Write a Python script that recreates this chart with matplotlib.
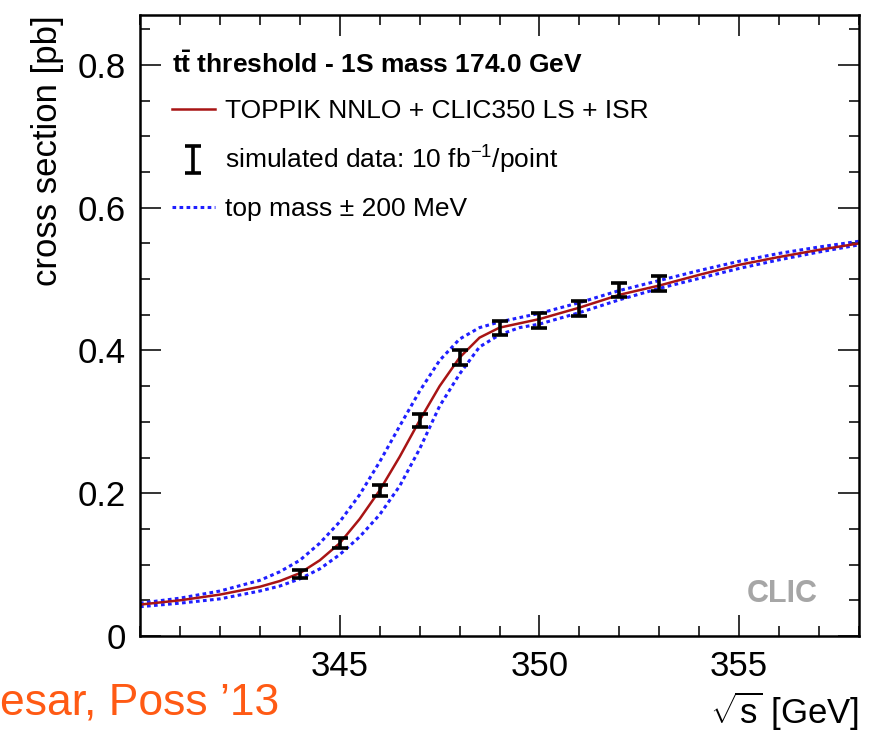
import matplotlib
matplotlib.use('Agg')
import matplotlib.pyplot as plt
from matplotlib.lines import Line2D
from matplotlib.ticker import MultipleLocator

plt.rcParams['font.family'] = ['Liberation Sans', 'DejaVu Sans']
plt.rcParams['mathtext.fontset'] = 'custom'
plt.rcParams['mathtext.rm'] = 'Liberation Sans'
plt.rcParams['mathtext.it'] = 'Liberation Sans:italic'
plt.rcParams['mathtext.bf'] = 'Liberation Sans:bold'

# theory curves
sqrt_s = [340, 341, 342, 343, 343.5, 344, 344.5, 345, 345.5, 346, 346.5, 347, 347.5,
          348, 348.5, 349, 349.5, 350, 351, 352, 353, 354, 355, 356, 357, 358]
xsec_nominal = [0.044, 0.050, 0.058, 0.069, 0.077, 0.088, 0.106, 0.130, 0.164, 0.204, 0.251, 0.302, 0.350,
                0.390, 0.418, 0.432, 0.438, 0.444, 0.460, 0.478, 0.491, 0.506, 0.520, 0.531, 0.541, 0.550]
xsec_mass_down = [0.046, 0.053, 0.063, 0.078, 0.090, 0.106, 0.130, 0.160, 0.198, 0.244, 0.294, 0.343, 0.386,
                  0.416, 0.432, 0.440, 0.446, 0.452, 0.467, 0.484, 0.498, 0.512, 0.525, 0.536, 0.545, 0.553]
xsec_mass_up = [0.041, 0.046, 0.052, 0.063, 0.070, 0.080, 0.094, 0.114, 0.139, 0.170, 0.210, 0.262, 0.322,
                0.367, 0.405, 0.422, 0.432, 0.437, 0.453, 0.471, 0.487, 0.501, 0.515, 0.527, 0.538, 0.548]

# simulated scan points
data_x = [344, 345, 346, 347, 348, 349, 350, 351, 352, 353]
data_y = [0.087, 0.130, 0.204, 0.302, 0.390, 0.432, 0.442, 0.459, 0.485, 0.494]
data_err = [0.006, 0.007, 0.008, 0.009, 0.010, 0.010, 0.010, 0.010, 0.010, 0.010]

y_ticks = [0, 0.2, 0.4, 0.6, 0.8]
y_tick_labels = ['0', '0.2', '0.4', '0.6', '0.8']
x_ticks = [345, 350, 355]

fig = plt.figure(figsize=(8.84, 7.40), dpi=100)
ax = fig.add_axes([140 / 884, 1 - 636 / 740, 719 / 884, 621 / 740])

dots = (0, (1.2, 1.1))
ax.plot(sqrt_s, xsec_mass_down, color='#1f1fff', lw=2.2, linestyle=dots)
ax.plot(sqrt_s, xsec_mass_up, color='#1f1fff', lw=2.2, linestyle=dots)
ax.plot(sqrt_s, xsec_nominal, color='#a81414', lw=1.8)
eb = ax.errorbar(data_x, data_y, yerr=data_err, fmt='none', ecolor='black',
                 elinewidth=2.6, capsize=5.5, capthick=2.6, zorder=5)

ax.set_xlim(340, 358)
ax.set_ylim(0, 0.87)
ax.set_xticks(x_ticks)
ax.xaxis.set_minor_locator(MultipleLocator(1))
ax.set_yticks(y_ticks)
ax.set_yticklabels(y_tick_labels)
ax.yaxis.set_minor_locator(MultipleLocator(0.05))
ax.tick_params(which='both', direction='in', top=True, right=True, labelsize=25,
               width=1.4, color='#333333')
ax.tick_params(which='major', length=15, pad=10)
ax.tick_params(which='minor', length=7.5)
for sp in ax.spines.values():
    sp.set_linewidth(1.8)

ax.set_ylabel('cross section [pb]', fontsize=25, loc='top', labelpad=10)
ax.set_xlabel(r'$\sqrt{\mathrm{s}}$ [GeV]', fontsize=25, loc='right', labelpad=5)

handles = [Line2D([], [], color='#a81414', lw=1.8), eb,
           Line2D([], [], color='#1f1fff', lw=2.2, linestyle=dots)]
labels = ['TOPPIK NNLO + CLIC350 LS + ISR',
          'simulated data: 10 fb$^{-1}$/point',
          'top mass \u00b1 200 MeV']
leg = ax.legend(handles, labels, loc='upper left', bbox_to_anchor=(0.045, 0.942),
                frameon=False, fontsize=19, handlelength=1.6, handletextpad=0.4,
                labelspacing=0.8, borderpad=0, borderaxespad=0,
                title=r'$\mathbf{t\bar{t}}$ threshold - 1S mass 174.0 GeV',
                title_fontproperties={'weight': 'bold', 'size': 19},
                alignment='left')

ax.text(0.893, 0.0676, 'CLIC', transform=ax.transAxes, ha='center', va='center',
        fontsize=22, fontweight='bold', color='#a6a6a6')

fig.text(0.0, 1 - 703 / 740, 'esar, Poss \u201913', ha='left', va='center',
         fontsize=32, color='#ff5a14')

fig.savefig('out.png', dpi=100)
